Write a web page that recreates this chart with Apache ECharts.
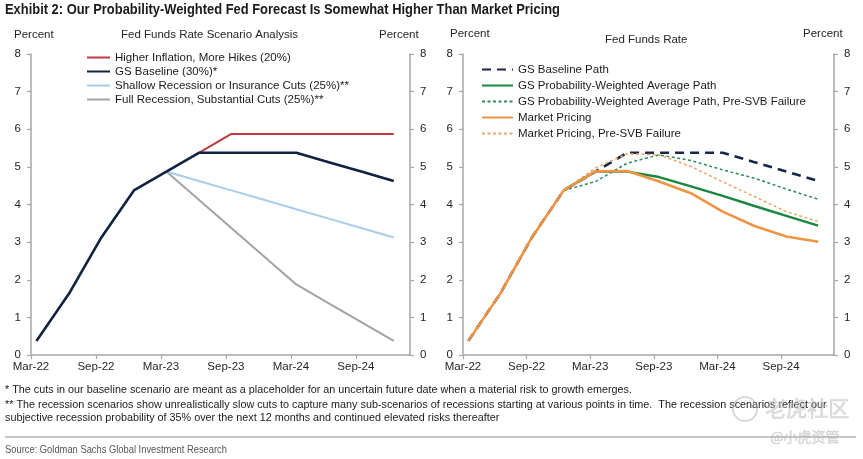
<!DOCTYPE html>
<html>
<head>
<meta charset="utf-8">
<script src="https://cdn.jsdelivr.net/npm/echarts@6/dist/echarts.min.js"></script>
<style>
html,body{margin:0;padding:0;background:#fff;}
#chart{width:863px;height:459px;}
</style>
</head>
<body>
<div id="chart"></div>
<script>
// ---- Data ----
const quarters = ['Mar-22','Jun-22','Sep-22','Dec-22','Mar-23','Jun-23','Sep-23','Dec-23','Mar-24','Jun-24','Sep-24','Dec-24'];
const tickLabels = ['Mar-22','Sep-22','Mar-23','Sep-23','Mar-24','Sep-24'];

// Left panel: Fed Funds Rate Scenario Analysis
const higherInflation  = [null,null,null,null,null,5.375,5.875,5.875,5.875,5.875,5.875,5.875];
const gsBaseline       = [0.375,1.625,3.125,4.375,4.875,5.375,5.375,5.375,5.375,5.125,4.875,4.625];
const shallowRecession = [null,null,null,null,4.875,4.625,4.375,4.125,3.875,3.625,3.375,3.125];
const fullRecession    = [null,null,null,null,4.875,4.125,3.375,2.625,1.875,1.375,0.875,0.375];

// Right panel: Fed Funds Rate
const gsBaselinePath   = [0.375,1.625,3.125,4.375,4.875,5.375,5.375,5.375,5.375,5.125,4.875,4.625];
const gsWeighted       = [null,null,null,4.375,4.875,4.875,4.73,4.48,4.23,3.96,3.70,3.44];
const gsWeightedPreSVB = [null,null,null,4.375,4.61,5.10,5.32,5.17,4.92,4.70,4.41,4.14];
const marketPricing    = [0.375,1.625,3.125,4.375,4.88,4.89,4.61,4.30,3.81,3.43,3.15,3.01];
const marketPreSVB     = [null,null,null,4.375,4.97,5.35,5.32,5.01,4.60,4.21,3.81,3.55];

// ---- Helpers ----
// month offset of each quarterly observation (mid-month), months since Mar-22
function monthOf(label){
  const names = ['Jan','Feb','Mar','Apr','May','Jun','Jul','Aug','Sep','Oct','Nov','Dec'];
  const [m, y] = label.split('-');
  return (parseInt(y,10) - 22) * 12 + names.indexOf(m) - 2 + 0.5;
}
function pairs(arr){
  const out = [];
  arr.forEach((v,i)=>{ if (v !== null) out.push([monthOf(quarters[i]), v]); });
  return out;
}

const AX = '#a6a6a6';
const LBL = '#262626';
const FONT = '"Liberation Sans", Arial, sans-serif';

// measure text to squeeze into a condensed look
const _c = document.createElement('canvas').getContext('2d');
function fitScale(text, font, target){
  _c.font = font;
  const w = _c.measureText(text).width;
  return Math.min(1, target / w);
}

function xAxis(gi){
  return {
    type:'value', gridIndex:gi, min:0, max:35, interval:6,
    axisLine:{show:true, lineStyle:{color:AX, width:1.5}},
    axisTick:{show:true, length:4, lineStyle:{color:AX, width:1.2}},
    splitLine:{show:false},
    axisLabel:{color:LBL, fontFamily:FONT, fontSize:11.5, margin:6,
      showMaxLabel:false,
      formatter:v => (v % 6 === 0 && tickLabels[v/6]) ? tickLabels[v/6] : ''}
  };
}
function yAxis(gi, pos){
  return {
    type:'value', gridIndex:gi, position:pos, min:0, max:8, interval:1,
    axisLine:{show:true, lineStyle:{color:AX, width:1.5}},
    axisTick:{show:true, length:4, lineStyle:{color:AX, width:1.2}},
    splitLine:{show:false},
    axisLabel:{color:LBL, fontFamily:FONT, fontSize:11.5, margin:10}
  };
}

const chart = echarts.init(document.getElementById('chart'), null, {renderer:'canvas'});

const legendText = {color:'#1a1a1a', fontFamily:FONT, fontSize:11.5, lineHeight:13};
const hideSymbol = {opacity:0, color:'rgba(0,0,0,0)', borderColor:'rgba(0,0,0,0)', borderWidth:0};

const titleText = 'Exhibit 2: Our Probability-Weighted Fed Forecast Is Somewhat Higher Than Market Pricing';
const titleFont = 'bold 15px ' + FONT;
const note1 = '* The cuts in our baseline scenario are meant as a placeholder for an uncertain future date when a material risk to growth emerges.';
const note2 = '** The recession scenarios show unrealistically slow cuts to capture many sub-scenarios of recessions starting at various points in time.  The recession scenarios reflect our';
const note3 = 'subjective recession probability of 35% over the next 12 months and continued elevated risks thereafter';
const noteFont = '11.5px ' + FONT;
const noteScale = fitScale(note1, noteFont, 627);
const sourceText = 'Source: Goldman Sachs Global Investment Research';
const sourceFont = '11px ' + FONT;

const option = {
  backgroundColor:'#fff',
  animation:false,
  grid:[
    {left:31, right:453, top:54, bottom:104},
    {left:463, right:29, top:54, bottom:104}
  ],
  xAxis:[xAxis(0), xAxis(1)],
  yAxis:[yAxis(0,'left'), yAxis(0,'right'), yAxis(1,'left'), yAxis(1,'right')],
  legend:[
    {
      left:86, top:51, orient:'vertical', padding:0, itemGap:1,
      itemWidth:23, itemHeight:10, textStyle:legendText, itemStyle:hideSymbol,
      data:['Higher Inflation, More Hikes (20%)','GS Baseline (30%)*','Shallow Recession or Insurance Cuts (25%)**','Full Recession, Substantial Cuts (25%)**'],
      selectedMode:false
    },
    {
      left:481, top:63, orient:'vertical', padding:0, itemGap:3,
      itemWidth:31, itemHeight:10, textStyle:legendText, itemStyle:hideSymbol,
      data:['GS Baseline Path','GS Probability-Weighted Average Path','GS Probability-Weighted Average Path, Pre-SVB Failure','Market Pricing','Market Pricing, Pre-SVB Failure'],
      selectedMode:false
    }
  ],
  series:[
    {name:'Full Recession, Substantial Cuts (25%)**', type:'line', xAxisIndex:0, yAxisIndex:0, z:2,
      data:pairs(fullRecession), symbol:'none', lineStyle:{color:'#a3a3a3', width:2}, itemStyle:{color:'#a3a3a3'}},
    {name:'Shallow Recession or Insurance Cuts (25%)**', type:'line', xAxisIndex:0, yAxisIndex:0, z:3,
      data:pairs(shallowRecession), symbol:'none', lineStyle:{color:'#a8cde6', width:2}, itemStyle:{color:'#a8cde6'}},
    {name:'Higher Inflation, More Hikes (20%)', type:'line', xAxisIndex:0, yAxisIndex:0, z:4,
      data:pairs(higherInflation), symbol:'none', lineStyle:{color:'#bf3a3f', width:2}, itemStyle:{color:'#bf3a3f'}},
    {name:'GS Baseline (30%)*', type:'line', xAxisIndex:0, yAxisIndex:0, z:5,
      data:pairs(gsBaseline), symbol:'none', lineStyle:{color:'#0f2240', width:2.6}, itemStyle:{color:'#0f2240'}},

    {name:'GS Baseline Path', type:'line', xAxisIndex:1, yAxisIndex:2, z:2,
      data:pairs(gsBaselinePath), symbol:'none', lineStyle:{color:'#16264a', width:2.6, type:[9,6]}, itemStyle:{color:'#16264a'}},
    {name:'GS Probability-Weighted Average Path, Pre-SVB Failure', type:'line', xAxisIndex:1, yAxisIndex:2, z:3,
      data:pairs(gsWeightedPreSVB), symbol:'none', lineStyle:{color:'#2e8b5a', width:1.5, type:[3,2.5]}, itemStyle:{color:'#2e8b5a'}},
    {name:'Market Pricing, Pre-SVB Failure', type:'line', xAxisIndex:1, yAxisIndex:2, z:4,
      data:pairs(marketPreSVB), symbol:'none', lineStyle:{color:'#eea468', width:1.5, type:[3,2.5]}, itemStyle:{color:'#eea468'}},
    {name:'GS Probability-Weighted Average Path', type:'line', xAxisIndex:1, yAxisIndex:2, z:5,
      data:pairs(gsWeighted), symbol:'none', lineStyle:{color:'#17873f', width:2.4}, itemStyle:{color:'#17873f'}},
    {name:'Market Pricing', type:'line', xAxisIndex:1, yAxisIndex:2, z:6,
      data:pairs(marketPricing), symbol:'none', lineStyle:{color:'#ee9445', width:2.6}, itemStyle:{color:'#ee9445'}}
  ],
  graphic:[
    {type:'text', x:5, y:2, scaleX:fitScale(titleText, titleFont, 555), style:{text:titleText, fill:'#1a1a1a', font:titleFont}},
    {type:'text', left:14, top:29, style:{text:'Percent', fill:LBL, font:'11.5px '+FONT}},
    {type:'text', left:121, top:29, style:{text:'Fed Funds Rate Scenario Analysis', fill:LBL, font:'11.5px '+FONT}},
    {type:'text', left:379, top:29, style:{text:'Percent', fill:LBL, font:'11.5px '+FONT}},
    {type:'text', left:450, top:28, style:{text:'Percent', fill:LBL, font:'11.5px '+FONT}},
    {type:'text', left:605, top:34, style:{text:'Fed Funds Rate', fill:LBL, font:'11.5px '+FONT}},
    {type:'text', left:803, top:28, style:{text:'Percent', fill:LBL, font:'11.5px '+FONT}},
    {type:'text', x:5, y:384, scaleX:noteScale, style:{text:note1, fill:'#1a1a1a', font:noteFont}},
    {type:'text', x:5, y:398.5, scaleX:noteScale, style:{text:note2, fill:'#1a1a1a', font:noteFont}},
    {type:'text', x:5, y:411.5, scaleX:noteScale, style:{text:note3, fill:'#1a1a1a', font:noteFont}},
    {type:'line', shape:{x1:5, y1:437, x2:856, y2:437}, style:{stroke:'#8c8c8c', lineWidth:1.2}},
    {type:'text', x:5, y:444, scaleX:fitScale(sourceText, sourceFont, 222), style:{text:sourceText, fill:'#555', font:sourceFont}},
    {type:'circle', shape:{cx:745, cy:409, r:12}, style:{fill:'none', stroke:'rgba(170,170,170,0.55)', lineWidth:1.5}},
    {type:'text', left:765, top:397, style:{text:'老虎社区', fill:'rgba(200,200,200,0.5)', stroke:'rgba(150,150,150,0.45)', lineWidth:0.6, font:'21px "Noto Sans CJK SC", sans-serif'}},
    {type:'text', left:770, top:429, style:{text:'@小虎资管', fill:'rgba(200,200,200,0.55)', stroke:'rgba(150,150,150,0.4)', lineWidth:0.5, font:'14px "Noto Sans CJK SC", sans-serif'}}
  ]
};
chart.setOption(option);
</script>
</body>
</html>
